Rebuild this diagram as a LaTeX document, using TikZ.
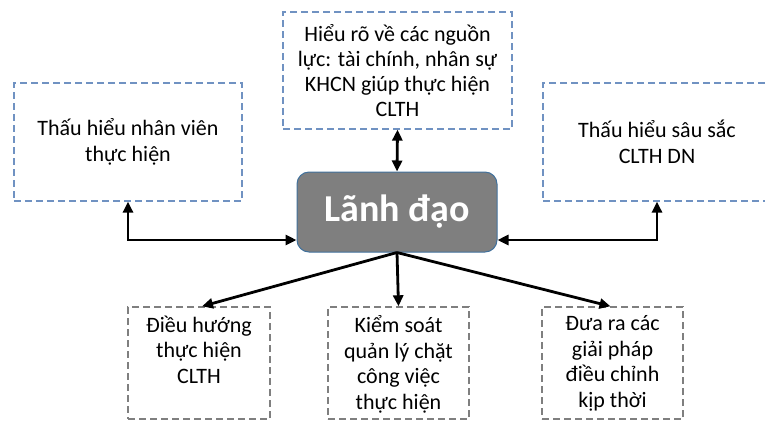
\documentclass[tikz,border=0pt]{standalone}
\usepackage{fontspec}
\setmainfont{Carlito}
\usetikzlibrary{arrows.meta}
\definecolor{dashblue}{HTML}{7092C2}
\definecolor{dashgray}{HTML}{7F7F7F}
\definecolor{leadfill}{HTML}{7F7F7F}
\definecolor{leadline}{HTML}{41719C}
\tikzset{
  bluebox/.style={draw=dashblue, line width=1.2bp, dash pattern=on 7bp off 4bp,
    align=center, inner sep=0pt, font=\fontsize{22bp}{26.5bp}\selectfont},
  graybox/.style={draw=dashgray, line width=1.4bp, dash pattern=on 7bp off 4bp,
    inner sep=0pt},
  boxtext/.style={align=center, inner sep=0pt, anchor=north,
    font=\fontsize{22bp}{25.7bp}\selectfont},
  leadbox/.style={draw=leadline, fill=leadfill, line width=1bp, rounded corners=12bp,
    text=white, inner sep=0pt, font=\fontsize{38bp}{44bp}\selectfont\bfseries},
  link/.style={line width=2.8bp, -{Triangle[length=11bp,width=10bp]}},
  twoway/.style={line width=2.8bp, {Triangle[length=11bp,width=10bp]}-{Triangle[length=11bp,width=10bp]}}
}
\begin{document}
\begin{tikzpicture}[x=1bp,y=-1bp]
\useasboundingbox (0,0) rectangle (765,421);
\clip (0,0) rectangle (765,421);

% central node
\node[leadbox, minimum width=200bp, minimum height=80bp] (lead) at (397,212) {Lãnh đạo};

% upper row: understanding
\node[bluebox, minimum width=229bp, minimum height=117bp, font=\fontsize{22bp}{24.7bp}\selectfont] (res) at (397.5,70.5)
  {Hiểu rõ về các nguồn\\lực: tài chính, nhân sự\\KHCN giúp thực hiện\\CLTH};
\node[bluebox, minimum width=228bp, minimum height=118bp] (staff) at (128,142)
  {Thấu hiểu nhân viên\\thực hiện};
\node[bluebox, minimum width=228bp, minimum height=118bp] (strat) at (657,142)
  {Thấu hiểu sâu sắc\\CLTH DN};

% lower row: actions
\node[graybox, minimum width=142bp, minimum height=112bp] (steer) at (199,363) {};
\node[graybox, minimum width=141bp, minimum height=112bp] (ctrl) at (398.5,363) {};
\node[graybox, minimum width=141bp, minimum height=112bp] (fix) at (612.5,363) {};
\node[boxtext] (steert) at ([yshift=-9bp]steer.north) {Điều hướng\\thực hiện\\CLTH};
\node[boxtext] (ctrlt) at ([yshift=-9bp]ctrl.north) {Kiểm soát\\quản lý chặt\\công việc\\thực hiện};
\node[boxtext] (fixt) at ([yshift=-9bp]fix.north) {Đưa ra các\\giải pháp\\điều chỉnh\\kịp thời};

% connectors
\coordinate (hub) at (lead.south);
\draw[twoway] (res.south) -- (lead.north);
\draw[twoway] (staff.south) |- ([yshift=-28bp]lead.west);
\draw[twoway] (strat.south) |- ([yshift=-28bp]lead.east);
\draw[link] (hub) -- ([xshift=3bp]steer.north);
\draw[link] (hub) -- (ctrl.north);
\draw[link] (hub) -- ([xshift=-2bp]fix.north);
\end{tikzpicture}
\end{document}
